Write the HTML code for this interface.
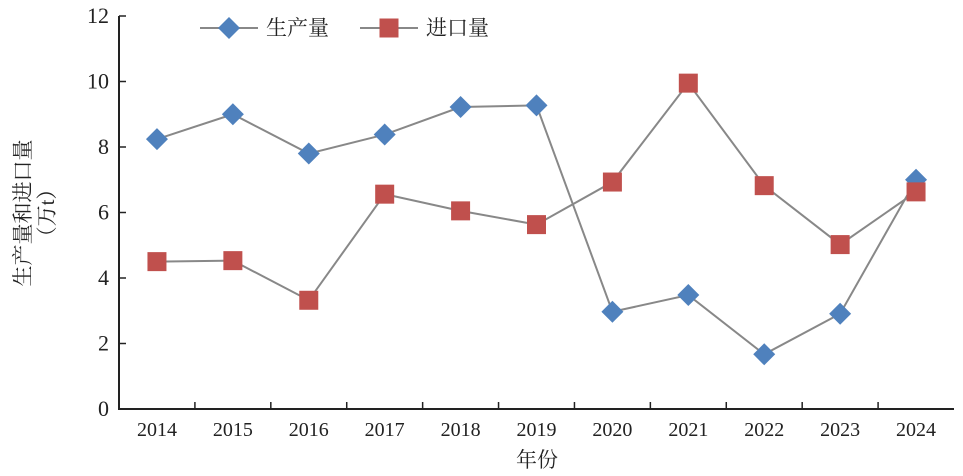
<!DOCTYPE html>
<html><head><meta charset="utf-8"><style>body{margin:0;background:#fff}</style></head>
<body>
<svg id="c" width="963" height="471" xmlns="http://www.w3.org/2000/svg" font-family="'Liberation Serif','Noto Serif CJK SC',serif"></svg>
<script>
const categories=["2014","2015","2016","2017","2018","2019","2020","2021","2022","2023","2024"];
const production=[8.24,9.0,7.8,8.38,9.22,9.27,2.97,3.48,1.67,2.91,7.0];
const imports=[4.5,4.53,3.32,6.56,6.05,5.63,6.93,9.95,6.82,5.02,6.63];
const yTicks=[0,2,4,6,8,10,12];
const svg=document.getElementById('c');
const NS='http://www.w3.org/2000/svg';
const x0=119,x1=954,y0=409,y1=16,ymax=12;
const bw=(x1-x0)/categories.length;
const X=i=>x0+bw*(i+0.5);
const Y=v=>y0-(v/ymax)*(y0-y1);
function el(t,a,p){const e=document.createElementNS(NS,t);for(const k in a)e.setAttribute(k,a[k]);(p||svg).appendChild(e);return e;}
let ax=el('path',{d:`M${x0} ${y1}V${y0}H${x1}`,stroke:'#222',fill:'none','stroke-width':2});


yTicks.forEach(v=>{
 const t=el('line',{x1:x0,x2:x0+7,y1:Y(v),y2:Y(v),stroke:'#222','stroke-width':1.5});
 
 
 const l=el('text',{x:x0-10,y:Y(v)+7,'text-anchor':'end','font-size':22,fill:'#222'});
 l.textContent=v;
 
 
});
categories.forEach((c,i)=>{
 if(i>0){const t=el('line',{x1:x0+bw*i,x2:x0+bw*i,y1:y0,y2:y0-7,stroke:'#222','stroke-width':1.5});
 
 }
 const l=el('text',{x:X(i),y:y0+27,'text-anchor':'middle','font-size':20,fill:'#222'});
 l.textContent=c;
 
 
});
function series(vals,name,shape){
 const g=el('g',{});
 
 
 const ln=el('polyline',{points:vals.map((v,i)=>X(i)+','+Y(v)).join(' '),fill:'none',stroke:'#888','stroke-width':2},g);
 
 
 vals.forEach((v,i)=>{
  const m=marker(X(i),Y(v),shape,g);
  
  
 });
}
function marker(x,y,shape,p){
 if(shape==='d')return el('path',{d:`M${x} ${y-11}L${x+11} ${y}L${x} ${y+11}L${x-11} ${y}Z`,fill:'#4f81bd'},p);
 return el('rect',{x:x-9.5,y:y-9.5,width:19,height:19,fill:'#c0504d'},p);
}
series(production,'production','d');
series(imports,'imports','s');
[[200,'生产量','d'],[360,'进口量','s']].forEach(([lx,t,s])=>{
 const g=el('g',{});
 
 
 el('line',{x1:lx,x2:lx+58,y1:28,y2:28,stroke:'#888','stroke-width':2},g);
 marker(lx+29,28,s,g);
 const tx=el('text',{x:lx+66,y:35,'font-size':21,fill:'#222'},g);tx.textContent=t;
});
const xt=el('text',{x:537,y:467,'text-anchor':'middle','font-size':21,fill:'#222'});
xt.textContent='年份';


const yt=el('text',{transform:'translate(30,213) rotate(-90)','text-anchor':'middle','font-size':21,fill:'#222'});
yt.textContent='生产量和进口量';


const yu=el('text',{transform:'translate(54,213) rotate(-90)','text-anchor':'middle','font-size':21,fill:'#222'});
yu.textContent='（万t）';


</script>
</body></html>
